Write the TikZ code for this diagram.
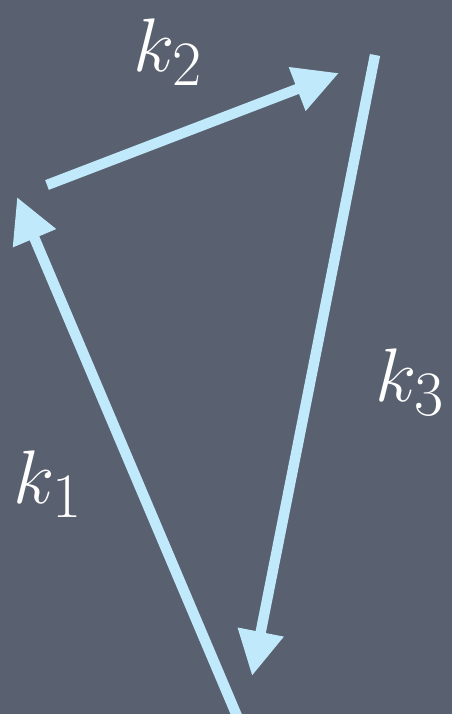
\documentclass[tikz,border=0pt]{standalone}
\usepackage{xcolor}
\usepackage{tikz}
\usetikzlibrary{arrows.meta}
\definecolor{kslate}{HTML}{59606F}
\definecolor{kchalk}{HTML}{C0EAFB}

\begin{document}
\begin{tikzpicture}[x=0.025cm, y=-0.025cm,
  vec/.style={draw=kchalk, line width=7.4pt,
    -{Triangle[length=1.12cm, width=1.1cm]}},
  lab/.style={text=white, font=\Huge, scale=2.17, transform shape}]
\fill[kslate] (0,0) rectangle (452,714);
\useasboundingbox (0,0) rectangle (452,714);
\coordinate (p1) at (237,716);
\coordinate (p2) at (17,197);
\coordinate (p3) at (47,185);
\coordinate (p4) at (339,73);
\coordinate (p5) at (375,55);
\coordinate (p6) at (252,676);
\draw[vec] (p1) -- (p2);
\draw[vec] (p3) -- (p4);
\draw[vec] (p5) -- (p6);
\node[lab] (k1) at (48,484) {$k_1$};
\node[lab] (k2) at (168,52) {$k_2$};
\node[lab] (k3) at (410,382) {$k_3$};
\end{tikzpicture}
\end{document}
